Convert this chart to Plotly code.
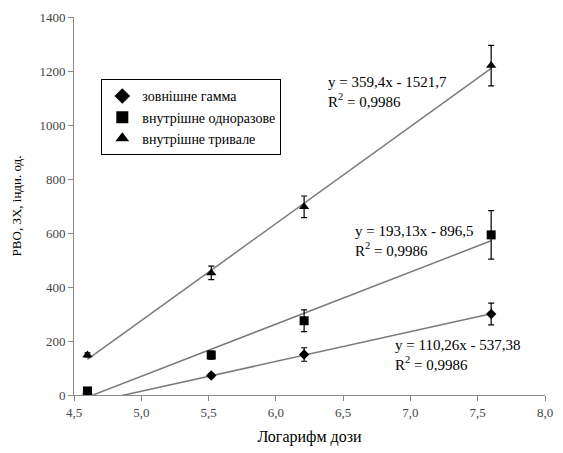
import plotly.graph_objects as go

log_dose = [4.60, 5.52, 6.21, 7.60]

gamma_y = [5, 72, 150, 300]
gamma_err = [4, 6, 25, 40]

single_y = [15, 148, 275, 593]
single_err = [12, 15, 40, 90]

long_y = [148, 452, 697, 1220]
long_err = [8, 25, 40, 75]

names = ["зовнішне гамма", "внутрішне одноразове", "внутрішне тривале"]
symbols = ["diamond", "square", "triangle-up"]
trend_slope = [110.26, 193.13, 359.4]
trend_icpt = [-537.38, -896.5, -1521.7]
eq_text = ["y = 110,26x - 537,38<br>R<sup>2</sup> = 0,9986",
           "y = 193,13x - 896,5<br>R<sup>2</sup> = 0,9986",
           "y = 359,4x - 1521,7<br>R<sup>2</sup> = 0,9986"]
eq_pos = [(6.87, 222), (6.57, 645), (6.37, 1195)]

series_y = [gamma_y, single_y, long_y]
series_err = [gamma_err, single_err, long_err]

FONT = "Liberation Serif"
fig = go.Figure()

for i in range(3):
    x0, x1 = log_dose[0], log_dose[-1]
    fig.add_trace(go.Scatter(
        x=[x0, x1], y=[trend_slope[i] * x0 + trend_icpt[i], trend_slope[i] * x1 + trend_icpt[i]],
        mode="lines", line=dict(color="#7a7a7a", width=1.5), showlegend=False, hoverinfo="skip"))

sizes = [8, 9, 9]
for i in range(3):
    fig.add_trace(go.Scatter(
        x=log_dose, y=series_y[i], mode="markers", name=names[i],
        marker=dict(symbol=symbols[i], size=sizes[i], color="black"),
        error_y=dict(type="data", array=series_err[i], color="black", thickness=1.2, width=3)))

for i in range(3):
    fig.add_annotation(x=eq_pos[i][0], y=eq_pos[i][1], text=eq_text[i], showarrow=False,
                       xanchor="left", yanchor="top", align="left",
                       font=dict(family=FONT, size=15, color="black"))

fig.update_layout(
    width=563, height=453,
    margin=dict(l=74, r=10, t=17, b=58),
    paper_bgcolor="white", plot_bgcolor="white",
    separators=", ",
    font=dict(family=FONT, size=12, color="black"),
    legend=dict(x=0.058, y=0.835, xanchor="left", yanchor="top",
                bordercolor="black", borderwidth=1, bgcolor="white",
                font=dict(family=FONT, size=14), itemsizing="constant",
                itemwidth=30, tracegroupgap=0),
    xaxis=dict(range=[4.5, 8.0], dtick=0.5, tickformat=".1f", showgrid=False,
               zeroline=False, showline=True, linecolor="#8a8a8a", linewidth=1,
               ticks="outside", ticklen=5, tickcolor="#8a8a8a",
               tickfont=dict(family=FONT, size=13, color="#444"),
               title=dict(text="Логарифм дози", font=dict(family=FONT, size=16), standoff=12)),
    yaxis=dict(range=[0, 1400], dtick=200, showgrid=False, zeroline=False,
               showline=True, linecolor="#8a8a8a", linewidth=1,
               ticks="outside", ticklen=5, tickcolor="#8a8a8a",
               tickfont=dict(family=FONT, size=13, color="#444"),
               title=dict(text="РВО, ЗХ, інди. од.", font=dict(family=FONT, size=13), standoff=14)),
)

fig.write_html("out.html")
